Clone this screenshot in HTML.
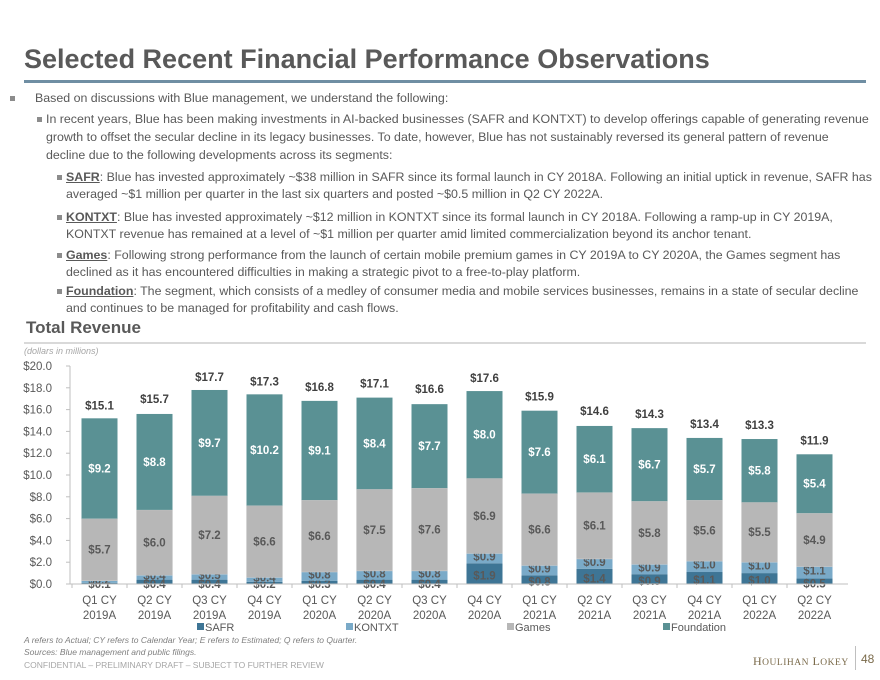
<!DOCTYPE html>
<html><head><meta charset="utf-8"><style>
body{margin:0;width:880px;height:680px;background:#fff;font-family:"Liberation Sans",Arial,sans-serif;position:relative;overflow:hidden;color:#595959}
.a{position:absolute;white-space:nowrap}
.t{font-size:12.4px;color:#595959}
.b{width:5px;height:5px;background:#8c8c8c}
u{font-weight:bold}
#rule{position:absolute;left:24px;top:80px;width:842px;height:0;border-top:2px solid #6f8ea3;z-index:10}
</style></head><body>
<div class="a" style="left:24px;top:44px;font-size:27px;font-weight:bold;color:#595959">Selected Recent Financial Performance Observations</div>
<div id="rule"></div>
<div>
<div class="a b" style="left:10px;top:96px"></div><div class="a t" style="left:35px;top:91px">Based on discussions with Blue management, we understand the following:</div>
<div class="a b" style="left:37px;top:117px"></div><div class="a t" style="left:46px;top:112px">In recent years, Blue has been making investments in AI-backed businesses (SAFR and KONTXT) to develop offerings capable of generating revenue</div>
<div class="a t" style="left:46px;top:130px">growth to offset the secular decline in its legacy businesses. To date, however, Blue has not sustainably reversed its general pattern of revenue</div>
<div class="a t" style="left:46px;top:148px">decline due to the following developments across its segments:</div>
<div class="a b" style="left:57px;top:175px"></div><div class="a t" style="left:66px;top:170px"><u>SAFR</u>: Blue has invested approximately ~$38 million in SAFR since its formal launch in CY 2018A. Following an initial uptick in revenue, SAFR has</div>
<div class="a t" style="left:66px;top:187px">averaged ~$1 million per quarter in the last six quarters and posted ~$0.5 million in Q2 CY 2022A.</div>
<div class="a b" style="left:57px;top:215px"></div><div class="a t" style="left:66px;top:210px"><u>KONTXT</u>: Blue has invested approximately ~$12 million in KONTXT since its formal launch in CY 2018A. Following a ramp-up in CY 2019A,</div>
<div class="a t" style="left:66px;top:227px">KONTXT revenue has remained at a level of ~$1 million per quarter amid limited commercialization beyond its anchor tenant.</div>
<div class="a b" style="left:57px;top:253px"></div><div class="a t" style="left:66px;top:248px"><u>Games</u>: Following strong performance from the launch of certain mobile premium games in CY 2019A to CY 2020A, the Games segment has</div>
<div class="a t" style="left:66px;top:265px">declined as it has encountered difficulties in making a strategic pivot to a free-to-play platform.</div>
<div class="a b" style="left:57px;top:289px"></div><div class="a t" style="left:66px;top:284px"><u>Foundation</u>: The segment, which consists of a medley of consumer media and mobile services businesses, remains in a state of secular decline</div>
<div class="a t" style="left:66px;top:301px">and continues to be managed for profitability and cash flows.</div>
</div>
<div class="a" style="left:26px;top:318px;font-size:17px;font-weight:bold;color:#595959">Total Revenue</div>
<div class="a" style="left:24px;top:342px;width:842px;height:2px;background:#d9d9d9"></div>
<div class="a" style="left:24px;top:346px;font-size:9px;font-style:italic;color:#a6a6a6">(dollars in millions)</div>
<svg class="a" style="left:0;top:0" width="880" height="680" id="chart">
<line x1="24" y1="82" x2="866" y2="82" stroke="#6f8ea3" stroke-width="2"/>
</svg>
<div class="a" style="left:24px;top:635px;font-size:8.5px;font-style:italic;color:#7f7f7f">A refers to Actual; CY refers to Calendar Year; E refers to Estimated; Q refers to Quarter.</div>
<div class="a" style="left:24px;top:647px;font-size:8.5px;font-style:italic;color:#7f7f7f">Sources: Blue management and public filings.</div>
<div class="a" style="left:24px;top:660px;font-size:8.5px;color:#a6a6a6">CONFIDENTIAL – PRELIMINARY DRAFT – SUBJECT TO FURTHER REVIEW</div>
<div class="a" style="left:753px;top:654px;font-family:'Liberation Serif',serif;font-size:12px;color:#7a6a4a;letter-spacing:0.5px">H<span style="font-size:9.5px">OULIHAN</span> L<span style="font-size:9.5px">OKEY</span></div>
<div class="a" style="left:855px;top:646px;width:1px;height:24px;background:#bfbfbf"></div>
<div class="a" style="left:861px;top:652px;font-size:12px;color:#7a6a4a">48</div>
<script>
const categories=[["Q1 CY","2019A"],["Q2 CY","2019A"],["Q3 CY","2019A"],["Q4 CY","2019A"],["Q1 CY","2020A"],["Q2 CY","2020A"],["Q3 CY","2020A"],["Q4 CY","2020A"],["Q1 CY","2021A"],["Q2 CY","2021A"],["Q3 CY","2021A"],["Q4 CY","2021A"],["Q1 CY","2022A"],["Q2 CY","2022A"]];
const safr=[0.1,0.4,0.4,0.2,0.3,0.4,0.4,1.9,0.8,1.4,0.9,1.1,1.0,0.5];
const kontxt=[0.2,0.4,0.5,0.4,0.8,0.8,0.8,0.9,0.9,0.9,0.9,1.0,1.0,1.1];
const games=[5.7,6.0,7.2,6.6,6.6,7.5,7.6,6.9,6.6,6.1,5.8,5.6,5.5,4.9];
const foundation=[9.2,8.8,9.7,10.2,9.1,8.4,7.7,8.0,7.6,6.1,6.7,5.7,5.8,5.4];
const totals=[15.1,15.7,17.7,17.3,16.8,17.1,16.6,17.6,15.9,14.6,14.3,13.4,13.3,11.9];
const yTicks=[0,2,4,6,8,10,12,14,16,18,20];
const seriesNames=["SAFR","KONTXT","Games","Foundation"];

const NS="http://www.w3.org/2000/svg";
const svg=document.getElementById('chart');
const x0=72,bw=55,barW=36,y0=584,ppu=10.9;
const X=i=>x0+i*bw+(bw-barW)/2;
const Y=v=>y0-v*ppu;
const colors=["#3e7595","#7aaac8","#b7b7b7","#5a9194"];
const labelColors=["#595959","#595959","#595959","#ffffff"];
function mk(tag,attrs,txt){const e=document.createElementNS(NS,tag);for(const k in attrs)e.setAttribute(k,attrs[k]);if(txt!==undefined)e.textContent=txt;svg.appendChild(e);return e;}
let ax=mk('line',{x1:70,y1:Y(20),x2:70,y2:y0,stroke:'#bfbfbf'});


yTicks.forEach(v=>{
  const tk=mk('line',{x1:66,x2:70,y1:Y(v),y2:Y(v),stroke:'#bfbfbf'});
  
  
  const t=mk('text',{x:52,y:Y(v)+4,'text-anchor':'end','font-size':11.5,fill:'#595959'},'$'+v.toFixed(1));
  
  
});
const series=[safr,kontxt,games,foundation];
categories.forEach((c,i)=>{
  let base=0;
  series.forEach((s,k)=>{
    const v=s[i];
    const r=mk('rect',{x:X(i),y:Y(base+v),width:barW,height:v*ppu,fill:colors[k],stroke:k==2?'#d0d0d0':'none','stroke-width':0.5});
    
    
    let ly=Y(base+v/2)+4;
    if(k==0) ly=Math.min(y0+4, Y(base+v/2)+6);
    if(k==1) ly=Y(base+v/2)+2;
    const t=mk('text',{x:X(i)+barW/2,y:ly,'text-anchor':'middle','font-size':11.5,'font-weight':'bold',fill:labelColors[k]},'$'+v.toFixed(1));
    
    
    base+=v;
  });
  const tt=mk('text',{x:X(i)+barW/2,y:Y(totals[i])-10,'text-anchor':'middle','font-size':11.5,'font-weight':'bold',fill:'#404040'},'$'+totals[i].toFixed(1));
  
  
  c.forEach((line,j)=>{
    const xl=mk('text',{x:X(i)+barW/2,y:604+j*15,'text-anchor':'middle','font-size':11.5,fill:'#595959'},line);
    
    
  });
  const sep=mk('line',{x1:x0+i*bw,x2:x0+i*bw,y1:y0,y2:y0+4,stroke:'#bfbfbf'});
  
  
});
let xa=mk('line',{x1:70,x2:x0+categories.length*bw+6,y1:y0,y2:y0,stroke:'#bfbfbf'});


const legX=[197,346,507,663];
seriesNames.forEach((n,k)=>{
  const r=mk('rect',{x:legX[k],y:623,width:7,height:7,fill:colors[k]});
  
  
  const t=mk('text',{x:legX[k]+8,y:631,'font-size':11,fill:'#595959'},n);
  
  
});
</script>
</body></html>
